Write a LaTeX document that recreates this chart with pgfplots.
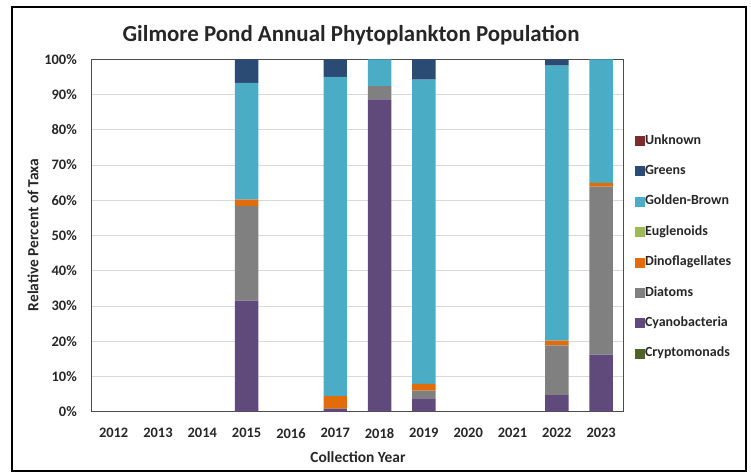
\documentclass[border=0pt]{standalone}
\usepackage{fontspec}
\setmainfont{Carlito}
\usepackage{pgfplots}
\pgfplotsset{compat=1.18}
\usepackage{pgfplotstable}
\definecolor{cUnknown}{HTML}{7B2C2C}
\definecolor{cGreens}{HTML}{2B4A74}
\definecolor{cGB}{HTML}{4BACC6}
\definecolor{cEug}{HTML}{9BBB59}
\definecolor{cDino}{HTML}{E36C0A}
\definecolor{cDiat}{HTML}{808080}
\definecolor{cCyano}{HTML}{604A7B}
\definecolor{cCrypto}{HTML}{4F6228}
\pgfplotsset{sqlegend/.style={legend image code/.code={\fill[##1] (0bp,-5bp) rectangle (10bp,5bp);}}}
\pgfplotstableread{
x Crypto Cyano Diat Dino Eug GB Greens Unknown
0  0 0    0    0   0 0    0   0
1  0 0    0    0   0 0    0   0
2  0 0    0    0   0 0    0   0
3  0 31.5 26.8 1.9 0 33.1 6.7 0
4  0 0    0    0   0 0    0   0
5  0 0.9  0    3.5 0 90.6 5.0 0
6  0 88.6 3.8  0   0 7.6  0   0
7  0 3.8  2.2  1.9 0 86.3 5.8 0
8  0 0    0    0   0 0    0   0
9  0 0    0    0   0 0    0   0
10 0 4.7  14.1 1.4 0 78.0 1.8 0
11 0 16.2 47.7 1.0 0 35.1 0   0
}\datatable
\begin{document}
\begin{tikzpicture}
\useasboundingbox (0,0) rectangle (751bp,472bp);
\draw[line width=2.5bp] (12bp,1bp) rectangle (746bp,465bp);
\begin{axis}[
  at={(91.5bp,60.3bp)}, anchor=south west,
  scale only axis, width=531.8bp, height=352.4bp,
  ybar stacked, bar width=0.53,
  xmin=-0.5, xmax=11.5, ymin=0, ymax=100,
  xtick={0,...,11},
  xticklabels={2012,2013,2014,2015,2016,2017,2018,2019,2020,2021,2022,2023},
  ytick={0,10,...,100},
  yticklabel={\pgfmathprintnumber{\tick}\%},
  /pgf/number format/assume math mode=true,
  major tick length=0pt,
  ymajorgrids, major grid style={color=black!15, line width=0.8bp},
  axis line style={draw=black!70, line width=0.9bp},
  tick label style={font=\bfseries\fontsize{14.5}{17}\selectfont, inner sep=0pt, text=black!85},
  xticklabel style={anchor=north, yshift=-16.5bp},
  yticklabel style={anchor=east, xshift=-14.5bp},
  reverse legend,
  legend style={at={(1.022,0.785)}, anchor=north west, draw=none, fill=none,
    inner sep=0pt, outer sep=0pt,
    font=\bfseries\fontsize{14}{16}\selectfont, text=black!85,
    nodes={inner sep=0pt, text height=9bp, text depth=3bp, anchor=west},
    row sep=18.4bp,
    /tikz/every even column/.append style={column sep=2.5bp}},
  legend cell align=left,
]
\addplot[fill=cCrypto, draw=none, sqlegend] table[x=x, y=Crypto] {\datatable};
\addlegendentry{Cryptomonads}
\addplot[fill=cCyano, draw=none, sqlegend] table[x=x, y=Cyano] {\datatable};
\addlegendentry{Cyanobacteria}
\addplot[fill=cDiat, draw=none, sqlegend] table[x=x, y=Diat] {\datatable};
\addlegendentry{Diatoms}
\addplot[fill=cDino, draw=none, sqlegend] table[x=x, y=Dino] {\datatable};
\addlegendentry{Dinoflagellates}
\addplot[fill=cEug, draw=none, sqlegend] table[x=x, y=Eug] {\datatable};
\addlegendentry{Euglenoids}
\addplot[fill=cGB, draw=none, sqlegend] table[x=x, y=GB] {\datatable};
\addlegendentry{Golden-Brown}
\addplot[fill=cGreens, draw=none, sqlegend] table[x=x, y=Greens] {\datatable};
\addlegendentry{Greens}
\addplot[fill=cUnknown, draw=none, sqlegend] table[x=x, y=Unknown] {\datatable};
\addlegendentry{Unknown}
\end{axis}
\node[font=\bfseries\fontsize{23}{26}\selectfont, text=black!85] at (351bp,437bp) {Gilmore Pond Annual Phytoplankton Population};
\node[font=\bfseries\fontsize{15.5}{18}\selectfont, text=black!85] at (358bp,15bp) {Collection Year};
\node[font=\bfseries\fontsize{15.5}{18}\selectfont, text=black!85, rotate=90] at (33bp,237bp) {Relative Percent of Taxa};
\end{tikzpicture}
\end{document}
